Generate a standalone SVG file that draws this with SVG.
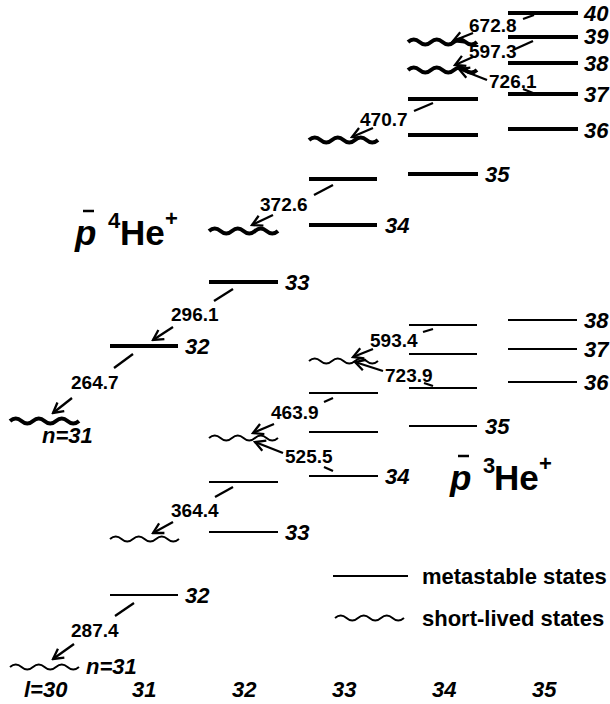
<svg xmlns="http://www.w3.org/2000/svg" xmlns:xlink="http://www.w3.org/1999/xlink" width="610" height="704" viewBox="0 0 610 704">
<defs>
<style>
.thick{stroke:#000;stroke-width:4;fill:none}
.thin{stroke:#000;stroke-width:2;fill:none}
.arr{stroke:#000;stroke-width:2.3;fill:none}
.num{font-family:"Liberation Sans",Arial,sans-serif;font-weight:bold;font-size:19px;fill:#000}
.lvl{font-family:"Liberation Sans",Arial,sans-serif;font-weight:bold;font-style:italic;font-size:22px;fill:#000}
.big{font-family:"Liberation Sans",Arial,sans-serif;font-weight:bold;font-size:35px;fill:#000}
.sup{font-family:"Liberation Sans",Arial,sans-serif;font-weight:bold;font-size:22px;fill:#000}
.leg{font-family:"Liberation Sans",Arial,sans-serif;font-weight:bold;font-size:22px;fill:#000}
</style>
<marker id="ah" viewBox="-12 -7 14 14" refX="0" refY="0" markerWidth="14" markerHeight="14" markerUnits="userSpaceOnUse" orient="auto">
<path d="M-10,-5.5 L0,0 L-10,5.5" fill="none" stroke="#000" stroke-width="2.3"/>
</marker>
<path id="wave" d="M0,0 q5.75,-5 11.5,0 t11.5,0 t11.5,0 t11.5,0 t11.5,0 t11.5,0"/>
</defs>

<!-- p-bar 4He+ levels -->
<g id="he4-l30-n31"><use xlink:href="#wave" x="10" y="421" class="thick"/><text class="lvl" x="42" y="443">n=31</text></g>
<g id="he4-l31-n32"><line class="thick" x1="110" y1="346" x2="178" y2="346"/><text class="lvl" x="185" y="354">32</text></g>
<g id="he4-l32-n33"><line class="thick" x1="209" y1="282" x2="278" y2="282"/><text class="lvl" x="285" y="290">33</text></g>
<g id="he4-l32-n34"><use xlink:href="#wave" x="209" y="231" class="thick"/></g>
<g id="he4-l33-n34"><line class="thick" x1="309" y1="225" x2="377" y2="225"/><text class="lvl" x="385" y="233">34</text></g>
<g id="he4-l33-n35"><line class="thick" x1="309" y1="179" x2="377" y2="179"/></g>
<g id="he4-l33-n36"><use xlink:href="#wave" x="309" y="140" class="thick"/></g>
<g id="he4-l34-n35"><line class="thick" x1="408" y1="174" x2="478" y2="174"/><text class="lvl" x="485" y="182">35</text></g>
<g id="he4-l34-n36"><line class="thick" x1="408" y1="135" x2="478" y2="135"/></g>
<g id="he4-l34-n37"><line class="thick" x1="408" y1="99" x2="478" y2="99"/></g>
<g id="he4-l34-n38"><use xlink:href="#wave" x="408" y="70" class="thick"/></g>
<g id="he4-l34-n39"><use xlink:href="#wave" x="408" y="42" class="thick"/></g>
<g id="he4-l35-n36"><line class="thick" x1="508" y1="129" x2="578" y2="129"/><text class="lvl" x="584" y="138">36</text></g>
<g id="he4-l35-n37"><line class="thick" x1="508" y1="94" x2="578" y2="94"/><text class="lvl" x="584" y="102">37</text></g>
<g id="he4-l35-n38"><line class="thick" x1="508" y1="63" x2="578" y2="63"/><text class="lvl" x="584" y="71">38</text></g>
<g id="he4-l35-n39"><line class="thick" x1="508" y1="37" x2="578" y2="37"/><text class="lvl" x="584" y="44">39</text></g>
<g id="he4-l35-n40"><line class="thick" x1="508" y1="13" x2="578" y2="13"/><text class="lvl" x="584" y="21">40</text></g>

<!-- p-bar 3He+ levels -->
<g id="he3-l30-n31"><use xlink:href="#wave" x="10" y="667" class="thin"/><text class="lvl" x="86" y="674">n=31</text></g>
<g id="he3-l31-n32"><line class="thin" x1="110" y1="595" x2="178" y2="595"/><text class="lvl" x="185" y="603">32</text></g>
<g id="he3-l31-n33"><use xlink:href="#wave" x="110" y="539" class="thin"/></g>
<g id="he3-l32-n33"><line class="thin" x1="209" y1="532" x2="278" y2="532"/><text class="lvl" x="285" y="540">33</text></g>
<g id="he3-l32-n34"><line class="thin" x1="209" y1="482" x2="278" y2="482"/></g>
<g id="he3-l32-n35"><use xlink:href="#wave" x="209" y="438" class="thin"/></g>
<g id="he3-l33-n34"><line class="thin" x1="309" y1="476" x2="378" y2="476"/><text class="lvl" x="385" y="484">34</text></g>
<g id="he3-l33-n35"><line class="thin" x1="309" y1="432" x2="378" y2="432"/></g>
<g id="he3-l33-n36"><line class="thin" x1="309" y1="393" x2="378" y2="393"/></g>
<g id="he3-l33-n37"><use xlink:href="#wave" x="309" y="361" class="thin"/></g>
<g id="he3-l34-n35"><line class="thin" x1="409" y1="426" x2="477" y2="426"/><text class="lvl" x="485" y="434">35</text></g>
<g id="he3-l34-n36"><line class="thin" x1="409" y1="388" x2="477" y2="388"/></g>
<g id="he3-l34-n37"><line class="thin" x1="409" y1="354" x2="477" y2="354"/></g>
<g id="he3-l34-n38"><line class="thin" x1="409" y1="325" x2="477" y2="325"/></g>
<g id="he3-l35-n36"><line class="thin" x1="508" y1="382" x2="577" y2="382"/><text class="lvl" x="584" y="390">36</text></g>
<g id="he3-l35-n37"><line class="thin" x1="508" y1="349" x2="577" y2="349"/><text class="lvl" x="584" y="357">37</text></g>
<g id="he3-l35-n38"><line class="thin" x1="508" y1="320" x2="577" y2="320"/><text class="lvl" x="584" y="328">38</text></g>

<!-- transitions -->
<g id="connectors">
<line class="arr" x1="523" y1="19" x2="534" y2="15"/><line class="arr" x1="473" y1="33" x2="453" y2="41" marker-end="url(#ah)"/>
<line class="arr" x1="513" y1="50" x2="533" y2="41"/><line class="arr" x1="473" y1="57" x2="455" y2="65" marker-end="url(#ah)"/>
<line class="arr" x1="523" y1="89" x2="533" y2="93"/><line class="arr" x1="487" y1="80" x2="459" y2="69" marker-end="url(#ah)"/>
<line class="arr" x1="414" y1="111" x2="433" y2="103"/><line class="arr" x1="373" y1="128" x2="352" y2="137" marker-end="url(#ah)"/>
<line class="arr" x1="314" y1="195" x2="333" y2="185"/><line class="arr" x1="273" y1="215" x2="252" y2="225" marker-end="url(#ah)"/>
<line class="arr" x1="233" y1="289" x2="214" y2="301"/><line class="arr" x1="173" y1="327" x2="153" y2="340" marker-end="url(#ah)"/>
<line class="arr" x1="133" y1="354" x2="114" y2="368"/><line class="arr" x1="72" y1="398" x2="53" y2="413" marker-end="url(#ah)"/>
<line class="arr" x1="423" y1="332" x2="433" y2="329"/><line class="arr" x1="373" y1="349" x2="353" y2="357" marker-end="url(#ah)"/>
<line class="arr" x1="424" y1="383" x2="433" y2="386"/><line class="arr" x1="383" y1="371" x2="355" y2="362" marker-end="url(#ah)"/>
<line class="arr" x1="324" y1="402" x2="333" y2="398"/><line class="arr" x1="274" y1="424" x2="253" y2="433" marker-end="url(#ah)"/>
<line class="arr" x1="324" y1="467" x2="333" y2="471"/><line class="arr" x1="283" y1="453" x2="255" y2="442" marker-end="url(#ah)"/>
<line class="arr" x1="233" y1="487" x2="215" y2="497"/><line class="arr" x1="173" y1="522" x2="153" y2="533" marker-end="url(#ah)"/>
<line class="arr" x1="134" y1="603" x2="115" y2="616"/><line class="arr" x1="74" y1="644" x2="53" y2="659" marker-end="url(#ah)"/>
<text class="num" x="469" y="32">672.8</text>
<text class="num" x="469" y="58">597.3</text>
<text class="num" x="489" y="88">726.1</text>
<text class="num" x="360" y="126">470.7</text>
<text class="num" x="260" y="211">372.6</text>
<text class="num" x="171" y="321">296.1</text>
<text class="num" x="71" y="389">264.7</text>
<text class="num" x="370" y="347">593.4</text>
<text class="num" x="385" y="382">723.9</text>
<text class="num" x="271" y="419">463.9</text>
<text class="num" x="285" y="463">525.5</text>
<text class="num" x="171" y="517">364.4</text>
<text class="num" x="71" y="637">287.4</text>
</g>

<!-- species labels -->
<g id="label-he4">
<text class="big" x="75" y="245" font-style="italic">p</text>
<line x1="83" y1="211" x2="94" y2="211" stroke="#000" stroke-width="2.5"/>
<text class="sup" x="108" y="228">4</text>
<text class="big" x="120" y="245">He</text>
<text class="sup" x="165" y="226">+</text>
</g>
<g id="label-he3">
<text class="big" x="450" y="490" font-style="italic">p</text>
<line x1="458" y1="456" x2="469" y2="456" stroke="#000" stroke-width="2.5"/>
<text class="sup" x="483" y="473">3</text>
<text class="big" x="494" y="490">He</text>
<text class="sup" x="539" y="471">+</text>
</g>

<!-- legend -->
<g id="legend">
<line class="thin" x1="333" y1="576" x2="408" y2="576"/>
<text class="leg" x="422" y="584">metastable states</text>
<use xlink:href="#wave" x="335" y="618" class="thin"/>
<text class="leg" x="422" y="626">short-lived states</text>
</g>

<!-- axis labels -->
<g id="axis">
<text class="lvl" x="24" y="697">l=30</text>
<text class="lvl" x="132" y="697">31</text>
<text class="lvl" x="232" y="697">32</text>
<text class="lvl" x="332" y="697">33</text>
<text class="lvl" x="432" y="697">34</text>
<text class="lvl" x="532" y="697">35</text>
</g>
</svg>
